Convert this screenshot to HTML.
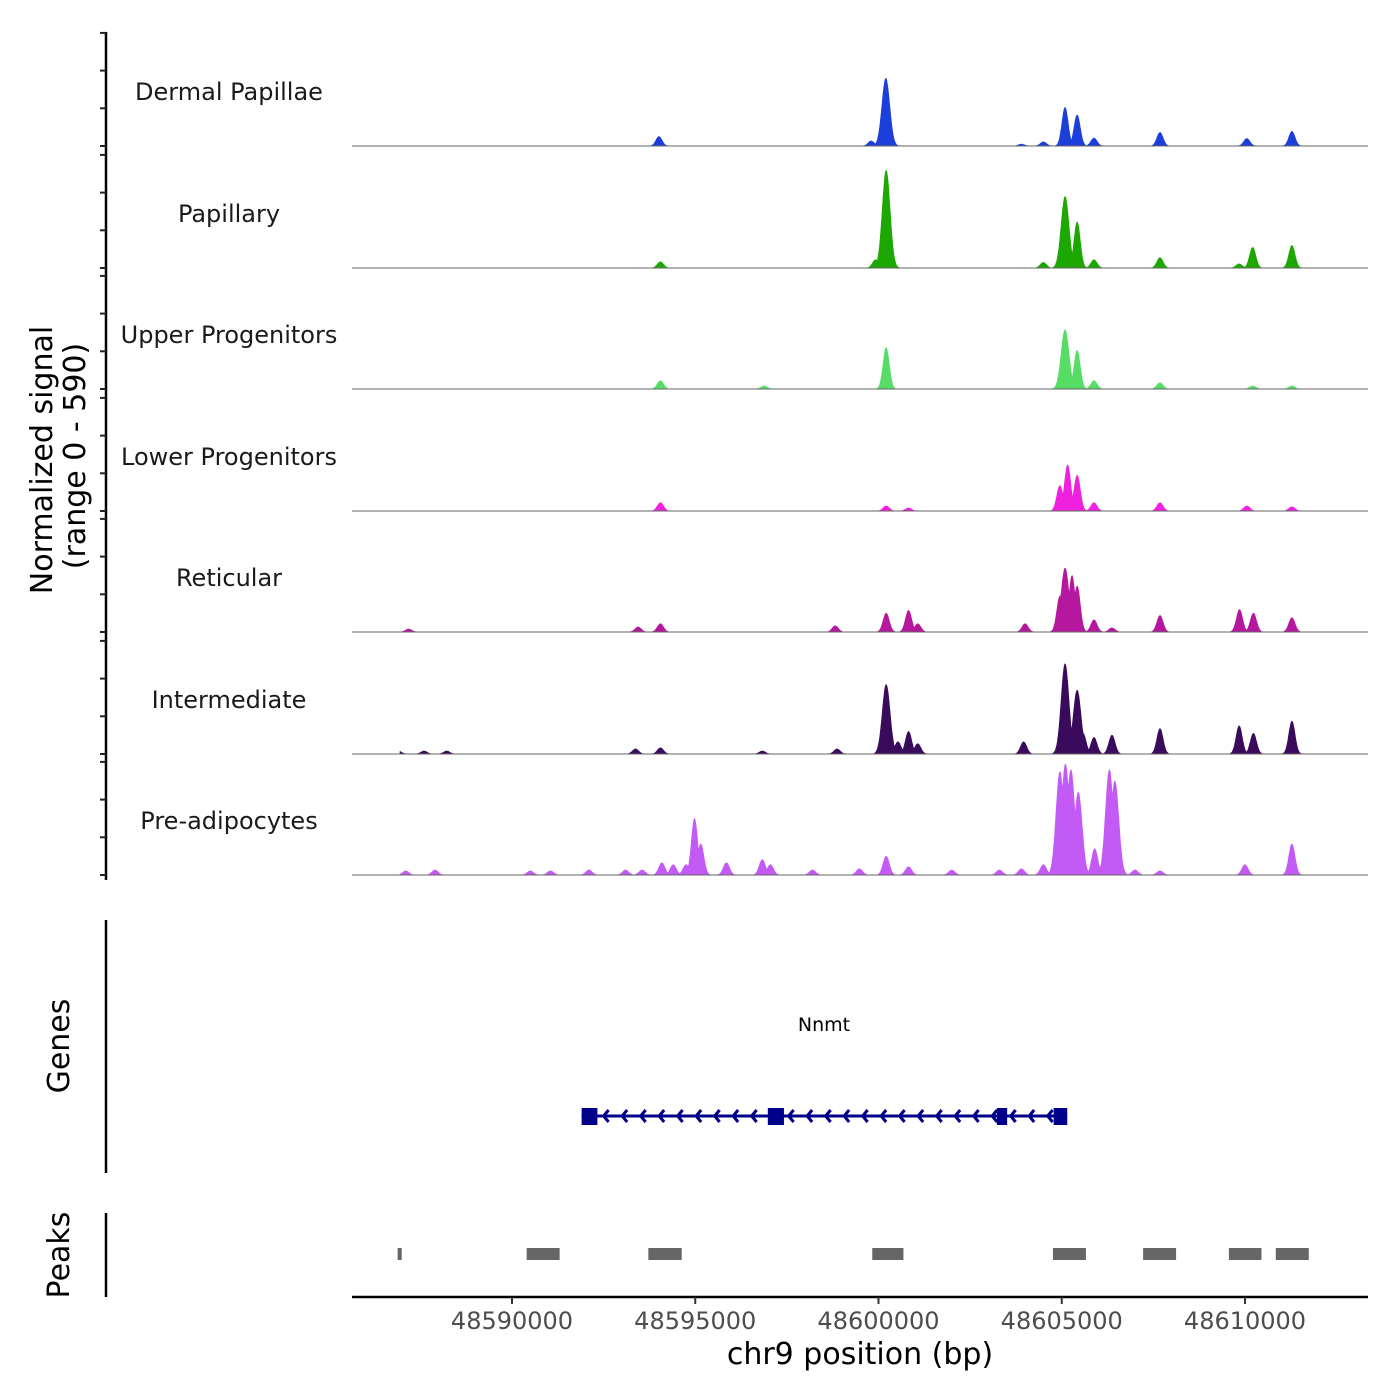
<!DOCTYPE html>
<html><head><meta charset="utf-8">
<style>
html,body{margin:0;padding:0;background:#fff;}
svg{display:block;font-family:"DejaVu Sans","Liberation Sans",sans-serif;}
</style></head>
<body>
<svg id="chart" width="1400" height="1400" viewBox="0 0 1400 1400" xmlns="http://www.w3.org/2000/svg">
<g id="tracks"></g>
<g id="axes"></g>
<g id="genes"></g>
<g id="peaks"></g>
<text transform="translate(52,460) rotate(-90)" text-anchor="middle" font-size="30" fill="#000">Normalized signal</text>
<text transform="translate(85,456) rotate(-90)" text-anchor="middle" font-size="30" fill="#000">(range 0 - 590)</text>
<text transform="translate(69,1046) rotate(-90)" text-anchor="middle" font-size="30" fill="#000">Genes</text>
<text transform="translate(69,1255) rotate(-90)" text-anchor="middle" font-size="30" fill="#000">Peaks</text>
<text x="860" y="1364" text-anchor="middle" font-size="30" fill="#000">chr9 position (bp)</text>
</svg>
<script>
// ---- data ----
const trackNames = ["Dermal Papillae","Papillary","Upper Progenitors","Lower Progenitors","Reticular","Intermediate","Pre-adipocytes"];
const trackColors = ["#1c3fdc","#1ca800","#55dd66","#f020e0","#b5189f","#3a0a5c","#c45af5"];
const dpPos = [48594010,48599800,48600200,48603900,48604500,48605090,48605420,48605880,48607680,48610050,48611280];
const dpVal = [50,27,360,10,22,205,165,42,72,40,78];
const papPos = [48594050,48599920,48600210,48604500,48605090,48605420,48605880,48607680,48609840,48610210,48611280];
const papVal = [33,44,520,30,380,245,44,55,22,110,120];
const upPos = [48594050,48596880,48600210,48605090,48605420,48605880,48607680,48610210,48611280];
const upVal = [44,16,220,315,205,44,33,16,16];
const lowPos = [48594050,48600210,48600820,48604950,48605160,48605420,48605880,48607680,48610050,48611280];
const lowVal = [44,27,16,135,245,190,44,44,27,22];
const retPos = [48587180,48593440,48594050,48598820,48600210,48600820,48601070,48604000,48604950,48605090,48605280,48605420,48605880,48606370,48607680,48609850,48610230,48611280];
const retVal = [16,27,44,33,100,115,44,44,190,340,300,245,65,22,88,120,100,76];
const intPos = [48586900,48587600,48588220,48593370,48594050,48596830,48598870,48600210,48600530,48600820,48601070,48603960,48605090,48605420,48605580,48605880,48606370,48607680,48609840,48610230,48611280];
const intVal = [16,16,16,27,33,16,27,370,65,120,55,65,480,340,110,88,100,135,150,110,175];
const prePos = [48587100,48587900,48590500,48591050,48592100,48593100,48593550,48594090,48594400,48594750,48594980,48595150,48595850,48596830,48597050,48598200,48599480,48600210,48600820,48602000,48603300,48603900,48604500,48604950,48605100,48605250,48605450,48605900,48606300,48606450,48607000,48607680,48610000,48611280];
const preVal = [22,27,22,22,27,27,27,65,55,55,300,165,65,82,55,27,33,100,44,27,27,33,55,550,590,560,440,140,560,500,27,22,55,165];
const peakStart = [48586880,48590400,48593720,48599830,48604760,48607220,48609560,48610840];
const peakEnd = [48586990,48591300,48594630,48600680,48605660,48608120,48610450,48611740];
const geneStart = 48591900, geneEnd = 48604980;
const exonStart = [48591900,48596980,48603230,48604780];
const exonEnd = [48592330,48597420,48603510,48605150];
const xTicks = [48590000,48595000,48600000,48605000,48610000];
const xTickLabels = ["48590000","48595000","48600000","48605000","48610000"];
const yMax = 590;

const allPos=[dpPos,papPos,upPos,lowPos,retPos,intPos,prePos];
const allVal=[dpVal,papVal,upVal,lowVal,retVal,intVal,preVal];

const X0=352,X1=1368,bp0=48590000,pxPerBp=733/20000;
function x(bp){return 512+(bp-bp0)*pxPerBp;}
const trackBase=[146,268,389,511,632,754,875];
const trackH=111;
function y(v,i){return trackBase[i]-v/yMax*trackH;}
const NS="http://www.w3.org/2000/svg";
function mk(tag,attrs,parent){const e=document.createElementNS(NS,tag);for(const k in attrs)e.setAttribute(k,attrs[k]);parent.appendChild(e);return e;}

const G=document.getElementById('tracks');
for(let i=0;i<7;i++){
  const pos=allPos[i],val=allVal[i];
  const bpStart=bp0+(400-512)/pxPerBp, bpEnd=bp0+(1340-512)/pxPerBp;
  let d="M"+x(bpStart)+","+trackBase[i];
  for(let b=bpStart;b<=bpEnd;b+=20){
    let s=0;
    for(let k=0;k<pos.length;k++){
      const w=val[k]>300?150:120;
      const t=(b-pos[k])/w;
      if(Math.abs(t)<3.5)s=Math.max(s,val[k]*Math.exp(-t*t));
    }
    d+=" L"+x(b).toFixed(1)+","+y(s,i).toFixed(1);
  }
  d+=" L"+x(bpEnd)+","+trackBase[i]+" Z";
  const p=mk('path',{d:d,fill:trackColors[i],stroke:trackColors[i],'stroke-width':0.6},G);
  
  
  const ln=mk('line',{x1:X0,x2:X1,y1:trackBase[i],y2:trackBase[i],stroke:'#666','stroke-width':1},G);
  
  
  const t=mk('text',{x:229,y:trackBase[i]-46,'text-anchor':'middle','font-size':24,fill:'#1a1a1a'},G);
  t.textContent=trackNames[i];
  
  
}

const A=document.getElementById('axes');
mk('line',{x1:106,x2:106,y1:32,y2:880,stroke:'#000','stroke-width':2.5},A);
for(let i=0;i<7;i++){
  [0,1,2,3].forEach(k=>{const yy=trackBase[i]-k*37.7;
    const tk=mk('line',{x1:100,x2:106,y1:yy,y2:yy,stroke:'#222','stroke-width':2},A);
    
    });
}
mk('line',{x1:106,x2:106,y1:920,y2:1173,stroke:'#000','stroke-width':2.5},A);
mk('line',{x1:106,x2:106,y1:1213,y2:1297,stroke:'#000','stroke-width':2.5},A);
mk('line',{x1:X0,x2:X1,y1:1297,y2:1297,stroke:'#000','stroke-width':2.5},A);
xTicks.forEach((t,k)=>{
  const tk=mk('line',{x1:x(t),x2:x(t),y1:1297,y2:1304,stroke:'#333','stroke-width':2},A);
  
  
  const lb=mk('text',{x:x(t),y:1329,'text-anchor':'middle','font-size':24,fill:'#4d4d4d'},A);
  lb.textContent=xTickLabels[k];
  
  
});

const GN=document.getElementById('genes');
mk('line',{x1:x(geneStart),x2:x(geneEnd),y1:1116,y2:1116,stroke:'#00008b','stroke-width':3},GN);
for(let px=x(geneStart)+22;px<x(geneEnd)-8;px+=18.5){
  mk('polyline',{points:(px+5)+",1110 "+px+",1116 "+(px+5)+",1122",fill:'none',stroke:'#00008b','stroke-width':3},GN);
}
exonStart.forEach((s,k)=>{
  const r=mk('rect',{x:x(s),y:1108,width:x(exonEnd[k])-x(s),height:17,fill:'#00008b'},GN);
  
  
});
const gl=mk('text',{x:824,y:1031,'text-anchor':'middle','font-size':19,fill:'#000'},GN);
gl.textContent="Nnmt";



const PK=document.getElementById('peaks');
peakStart.forEach((s,k)=>{
  const r=mk('rect',{x:x(s),y:1248,width:Math.max(4,x(peakEnd[k])-x(s)),height:12,fill:'#666'},PK);
  
  
});
</script>
</body></html>
